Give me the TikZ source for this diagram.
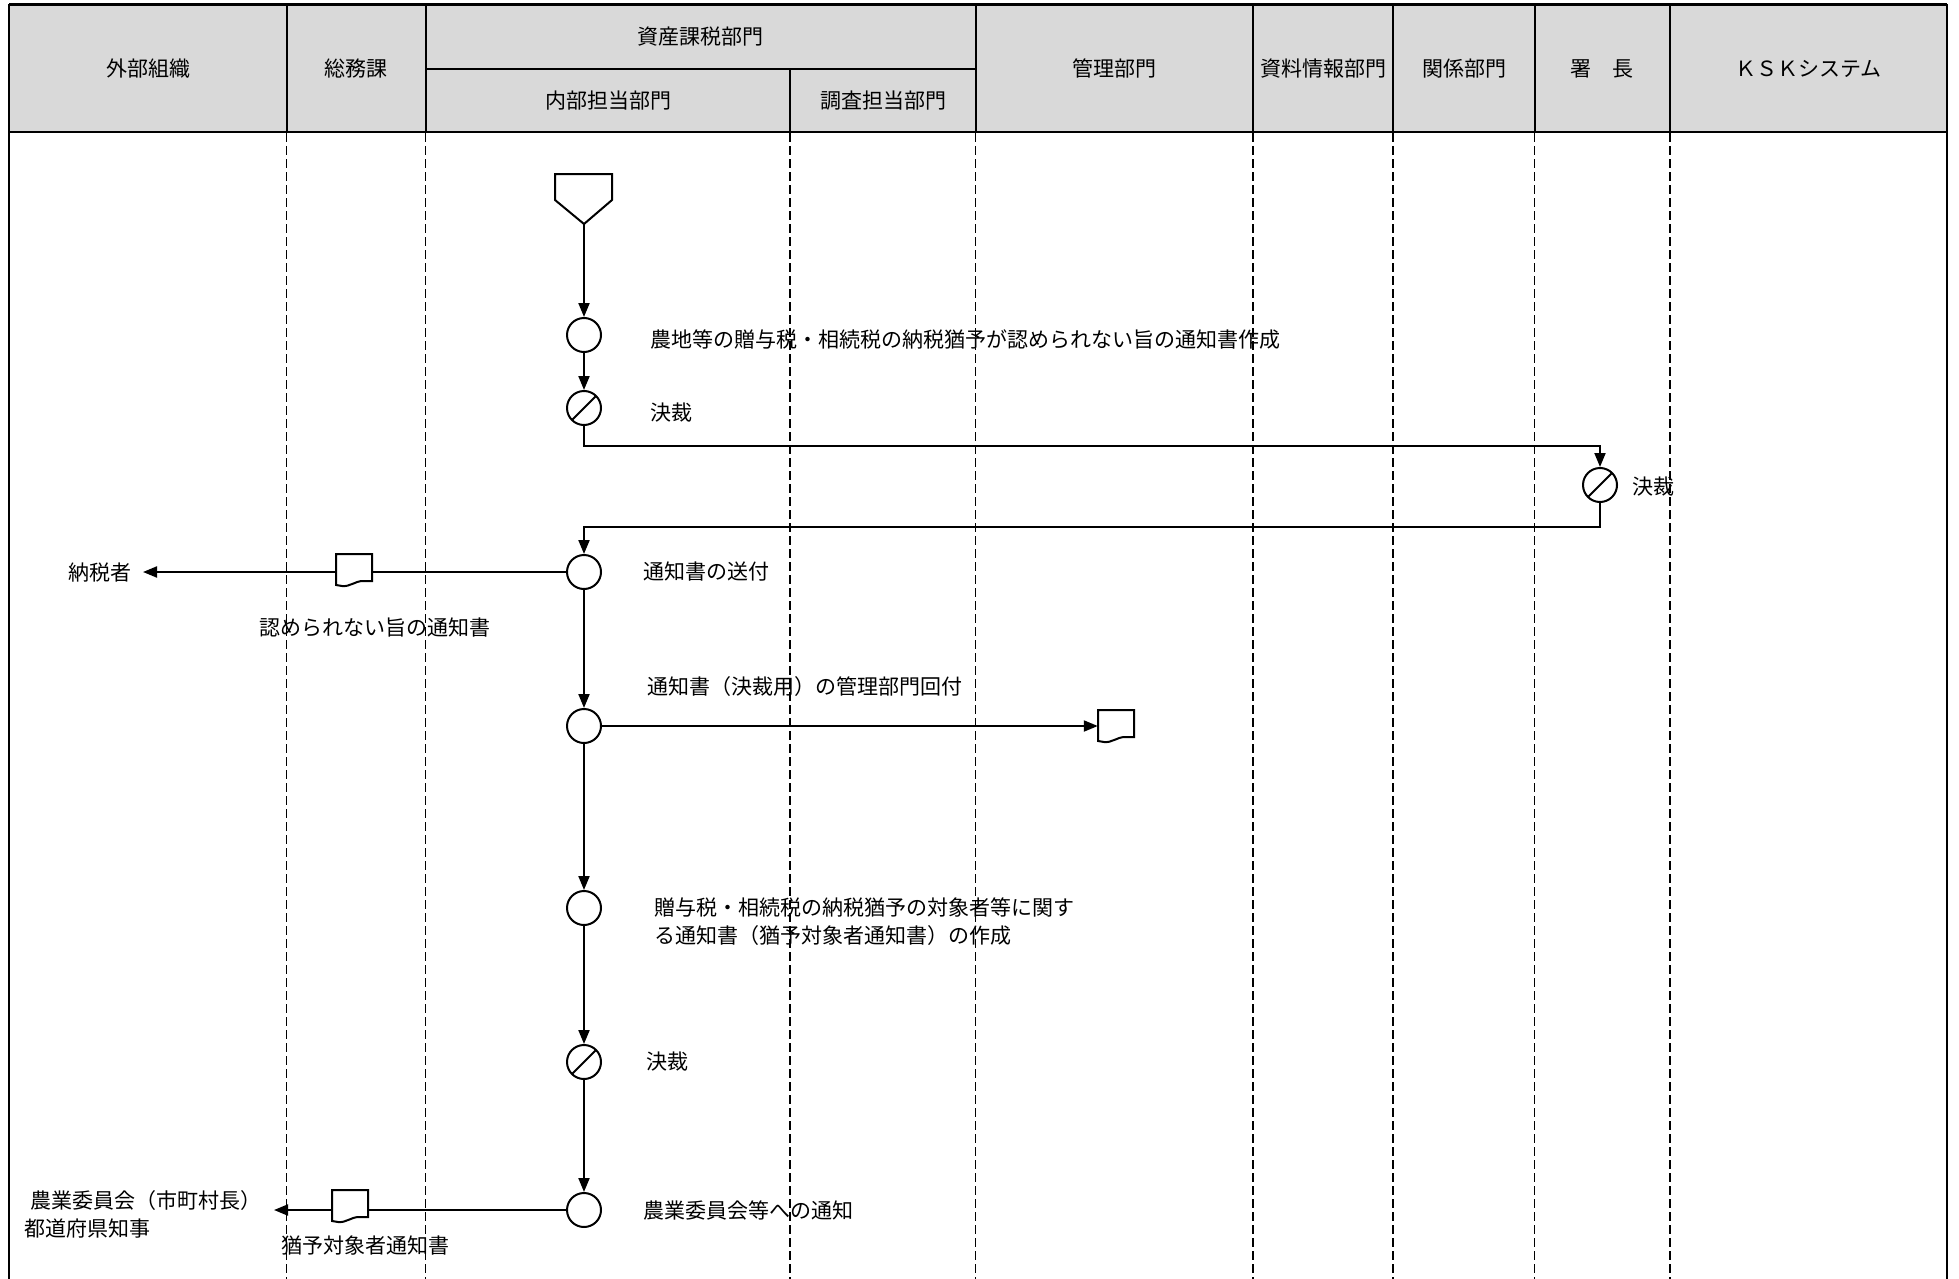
\documentclass[tikz,border=0pt]{standalone}
\usepackage{fontspec}
\setmainfont{Noto Sans CJK JP}
\usetikzlibrary{arrows.meta,calc}
\definecolor{hdr}{HTML}{D9D9D9}
\newcommand\mydoc[3]{%
  \node[docbox] (#1) at (#2,#3) {};
  \draw[conn] ([shift={(-18,-15)}]#1.center) -- ([shift={(18,-15)}]#1.center) -- ([shift={(18,12)}]#1.center) -- ([shift={(9,12)}]#1.center) .. controls ([shift={(1,12)}]#1.center) and ([shift={(-4,18)}]#1.center) .. ([shift={(-12,17)}]#1.center) -- ([shift={(-18,16)}]#1.center) -- cycle;}
\begin{document}
\begin{tikzpicture}[x=1pt,y=-1pt,font=\fontsize{21}{28}\selectfont,
  lane/.style={line width=1.9pt,dash pattern=on 9pt off 4pt},
  gridline/.style={line width=2pt},
  conn/.style={line width=2pt},
  arr/.style={conn,-{Triangle[length=14pt,width=11pt]}},
  proc/.style={circle,draw,line width=2pt,minimum size=34pt,inner sep=0pt},
  dec/.style={proc,path picture={\draw[line width=2pt] (path picture bounding box.south west) -- (path picture bounding box.north east);}},
  lbl/.style={inner sep=0pt,anchor=west},
  hd/.style={inner sep=0pt},
  docbox/.style={minimum width=36pt,minimum height=31pt,inner sep=0pt}]
\useasboundingbox (0,0) rectangle (1959,1279);
% header
\fill[hdr] (9,5) rectangle (1947,132);
\draw[line width=3pt] (9,5) -- (1947,5);
\draw[line width=2.5pt] (9,132) -- (1947,132);
\draw[gridline] (425.5,69) -- (975.5,69);
\foreach \x in {286.5,425.5,975.5,1253,1393,1534.5,1670} \draw[gridline] (\x,5) -- (\x,132);
\draw[gridline] (790,69) -- (790,132);
\draw[gridline] (9,4) -- (9,1279);
\draw[gridline] (1947,4) -- (1947,1279);
% lanes
\foreach \x in {286.5,425.5,790,975.5,1253,1393,1534.5,1670} \draw[lane] (\x,133) -- (\x,1279);
% header texts
\node[hd] (h1) at (148,68.5) {外部組織};
\node[hd] (h2) at (356,68.5) {総務課};
\node[hd] (h3) at (700.5,37) {資産課税部門};
\node[hd] (h4) at (608,100.5) {内部担当部門};
\node[hd] (h5) at (883,100.5) {調査担当部門};
\node[hd] (h6) at (1114,68.5) {管理部門};
\node[hd] (h7) at (1323,68.5) {資料情報部門};
\node[hd] (h8) at (1464,68.5) {関係部門};
\node[hd] (h9) at (1602,68.5) {署　長};
\node[hd] (h10) at (1808.5,68.5) {ＫＳＫシステム};
% start
\draw[conn,fill=white] (555,174) -- (612,174) -- (612,200) -- (584,224) -- (555,200) -- cycle;
\coordinate (s0) at (584,224);
% nodes
\node[proc] (c1) at (584,335) {};
\node[dec] (c2) at (584,408) {};
\node[dec] (c3) at (1600,485) {};
\node[proc] (c4) at (584,572) {};
\node[proc] (c5) at (584,726) {};
\node[proc] (c6) at (584,908) {};
\node[dec] (c7) at (584,1062) {};
\node[proc] (c8) at (584,1210) {};
% labels
\node[lbl] (t1) at (650,340) {農地等の贈与税・相続税の納税猶予が認められない旨の通知書作成};
\node[lbl] (t2) at (650,413) {決裁};
\node[lbl] (t3) at (1632,487) {決裁};
\node[lbl] (t4) at (643,572) {通知書の送付};
\node[lbl] (t5) at (647,687) {通知書（決裁用）の管理部門回付};
\node[lbl,align=left] (t6) at (654,922) {贈与税・相続税の納税猶予の対象者等に関す\\る通知書（猶予対象者通知書）の作成};
\node[lbl] (t7) at (646,1062) {決裁};
\node[lbl] (t8) at (643,1210) {農業委員会等への通知};
% documents
\mydoc{d1}{354}{569}
\mydoc{d2}{1116}{725}
\mydoc{d3}{350}{1205}
\node[hd] (dl1) at (375,628) {認められない旨の通知書};
\node[hd] (dl3) at (365,1245) {猶予対象者通知書};
% external
\node[hd] (p1) at (100,573) {納税者};
\coordinate (tip1) at (143,572);
\node[lbl,align=left] (p2) at (24,1214) {\hspace*{6pt}農業委員会（市町村長）\\都道府県知事};
\coordinate (tip2) at (274,1210);
% route coordinates
\coordinate (r1) at (1600,446);
\coordinate (r2) at (1600,527);
% connectors
\draw[arr] (s0) -- (c1.north);
\draw[arr] (c1.south) -- (c2.north);
\draw[arr] (c2.south) -- (c2.south |- r1) -- (r1) -- (c3.north);
\draw[arr] (c3.south) -- (r2) -- (c4.north |- r2) -- (c4.north);
\draw[conn] (c4.west) -- (c4.west -| d1.east);
\draw[arr] (d1.west |- c4.west) -- (tip1);
\draw[arr] (c4.south) -- (c5.north);
\draw[arr] (c5.east) -- (c5.east -| d2.west);
\draw[arr] (c5.south) -- (c6.north);
\draw[arr] (c6.south) -- (c7.north);
\draw[arr] (c7.south) -- (c8.north);
\draw[conn] (c8.west) -- (c8.west -| d3.east);
\draw[arr] (d3.west |- c8.west) -- (tip2);
\end{tikzpicture}
\end{document}
